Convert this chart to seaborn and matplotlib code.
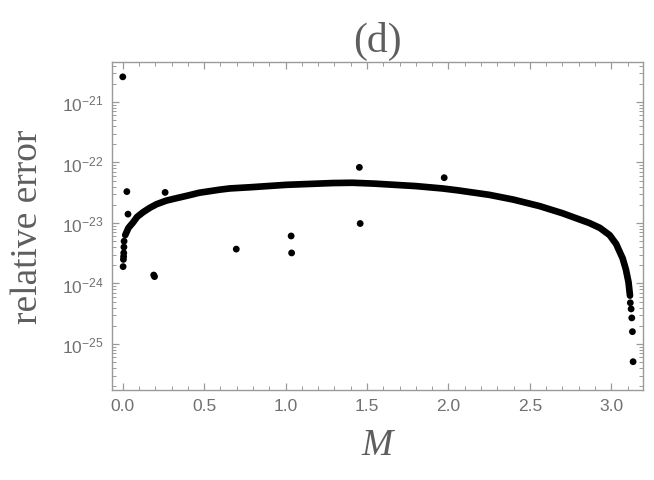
import matplotlib
matplotlib.use("Agg")
import matplotlib.pyplot as plt
import matplotlib.ticker as mticker
import seaborn as sns
import pandas as pd
import numpy as np

# main band (dense points)
curve_m = [0.015, 0.035, 0.063, 0.088, 0.125, 0.166, 0.207, 0.267, 0.33, 0.395,
           0.47, 0.595, 0.656, 0.78, 1.004, 1.29, 1.41, 1.545, 1.80, 1.963,
           2.055, 2.25, 2.4, 2.56, 2.7, 2.865, 2.93, 2.99, 3.03, 3.07, 3.09,
           3.106, 3.115]
curve_err = [6.3e-24, 8.3e-24, 1.02e-23, 1.26e-23, 1.51e-23, 1.78e-23, 2.04e-23,
             2.34e-23, 2.57e-23, 2.82e-23, 3.16e-23, 3.55e-23, 3.72e-23, 3.89e-23,
             4.27e-23, 4.57e-23, 4.62e-23, 4.47e-23, 4.07e-23, 3.72e-23, 3.47e-23,
             2.92e-23, 2.43e-23, 1.9e-23, 1.45e-23, 1.0e-23, 8.3e-24, 6.3e-24,
             4.5e-24, 2.6e-24, 1.7e-24, 1.05e-24, 6.3e-25]

# separate dots: tails at both ends and the scattered outliers
dot_m = [0.008, 0.007, 0.006, 0.005, 0.004,
         3.117, 3.122, 3.126, 3.130, 3.134,
         0.0, 0.025, 0.26, 1.453, 1.974, 0.032, 0.002, 0.19, 0.195,
         0.697, 1.034, 1.037, 1.458]
dot_err = [5.0e-24, 4.0e-24, 3.2e-24, 2.8e-24, 2.5e-24,
           4.8e-25, 3.8e-25, 2.7e-25, 1.6e-25, 5.1e-26,
           2.6e-21, 3.3e-23, 3.2e-23, 8.3e-23, 5.6e-23, 1.4e-23, 1.9e-24, 1.38e-24, 1.30e-24,
           3.7e-24, 6.1e-24, 3.2e-24, 9.8e-24]

y_major = [1e-25, 1e-24, 1e-23, 1e-22, 1e-21]

curve = pd.DataFrame({"M": curve_m, "err": curve_err})
dots = pd.DataFrame({"M": dot_m, "err": dot_err})

sns.set_style("ticks")
plt.rcParams["font.family"] = ["Liberation Sans", "DejaVu Sans"]
plt.rcParams["mathtext.default"] = "regular"

frame_col = "#9a9a9a"
text_col = "#707070"
label_col = "#5e5e5e"

fig = plt.figure(figsize=(6.54, 4.81), dpi=100)
ax = fig.add_axes([0.1713, 0.1871, 0.9832 - 0.1713, 0.869 - 0.1871])

sns.lineplot(data=curve, x="M", y="err", ax=ax, color="black", linewidth=4.8,
             solid_capstyle="round", solid_joinstyle="round", sort=False)
sns.scatterplot(data=dots, x="M", y="err", ax=ax, color="black", s=24,
                edgecolor="none", linewidth=0)

ax.set_yscale("log")
ax.set_xlim(-0.066, 3.195)
ax.set_ylim(10 ** -25.76, 10 ** -20.34)

ax.xaxis.set_major_locator(mticker.MultipleLocator(0.5))
ax.xaxis.set_minor_locator(mticker.MultipleLocator(0.1))
ax.xaxis.set_major_formatter(mticker.FormatStrFormatter("%.1f"))
ax.yaxis.set_major_locator(mticker.FixedLocator(y_major))
ax.yaxis.set_major_formatter(mticker.LogFormatterSciNotation())
ax.yaxis.set_minor_locator(mticker.LogLocator(base=10, subs=np.arange(2, 10), numticks=20))
ax.yaxis.set_minor_formatter(mticker.NullFormatter())

for side in ["left", "right", "top", "bottom"]:
    ax.spines[side].set_color(frame_col)
    ax.spines[side].set_linewidth(1.0)

ax.tick_params(which="both", direction="in", top=True, right=True,
               color=frame_col, labelcolor=text_col, labelsize=12.5, pad=6)
ax.tick_params(which="major", length=5, width=0.9)
ax.tick_params(which="minor", length=2.8, width=0.7)

ax.set_xlabel("M", fontsize=27, color=label_col, family=["Liberation Serif"],
              style="italic", labelpad=10)
ax.set_ylabel("relative error", fontsize=27, color=label_col,
              family=["Liberation Serif"], labelpad=12)
ax.set_title("(d)", fontsize=30, color=label_col, family=["Liberation Serif"], pad=8)

fig.savefig("out.png", dpi=100)
